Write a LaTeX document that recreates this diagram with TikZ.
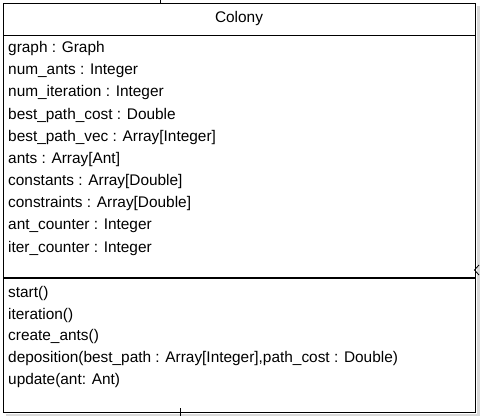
\documentclass[tikz,border=0pt]{standalone}
\usepackage{fontspec}
\setmainfont{Liberation Sans}
\begin{document}
\begin{tikzpicture}[x=1pt,y=-1pt,
  umltext/.style={anchor=west,inner sep=0pt,font=\fontsize{15.4}{17}\selectfont},
  umlline/.style={line width=1pt,black},
  shadow/.style={fill=black!15,draw=none}]
\useasboundingbox (0,0) rectangle (480,416);
% drop shadow on the right and bottom
\fill[shadow] (477,6) rectangle (480,416);
\fill[shadow] (6,413.5) rectangle (480,416);
% class box
\draw[umlline,fill=white] (3,3) rectangle (475.5,412.5);
\draw[umlline] (3,35) -- (475.5,35);
\draw[line width=2pt] (3,278) -- (475.5,278);
% connector stubs at the box edges
\coordinate (topstub) at (160,0);
\coordinate (botstub) at (180,416);
\draw[line width=1pt] (160,3) -- (topstub);
\draw[line width=1pt] (180,408) -- (180,416);
\coordinate (tip) at (474.5,270);
\draw[line width=0.8pt] (479,265) -- (tip) -- (479,275);
% header
\node[inner sep=0pt,font=\fontsize{15.4}{17}\selectfont] (name) at (239,18.5) {Colony};
% attributes
\node[umltext] (a1) at (8,48.5) {graph : Graph};
\node[umltext] (a2) at (8,70.7) {num\_ants : Integer};
\node[umltext] (a3) at (8,92.9) {num\_iteration : Integer};
\node[umltext] (a4) at (8,115.1) {best\_path\_cost : Double};
\node[umltext] (a5) at (8,137.3) {best\_path\_vec : Array[Integer]};
\node[umltext] (a6) at (8,159.5) {ants : Array[Ant]};
\node[umltext] (a7) at (8,181.7) {constants : Array[Double]};
\node[umltext] (a8) at (8,203.9) {constraints : Array[Double]};
\node[umltext] (a9) at (8,226.1) {ant\_counter : Integer};
\node[umltext] (a10) at (8,248.3) {iter\_counter : Integer};
% operations
\node[umltext] (o1) at (8,293.5) {start()};
\node[umltext] (o2) at (8,315.5) {iteration()};
\node[umltext] (o3) at (8,337) {create\_ants()};
\node[umltext] (o4) at (8,358.5) {deposition(best\_path : Array[Integer],path\_cost : Double)};
\node[umltext] (o5) at (8,380.5) {update(ant: Ant)};
\end{tikzpicture}
\end{document}
